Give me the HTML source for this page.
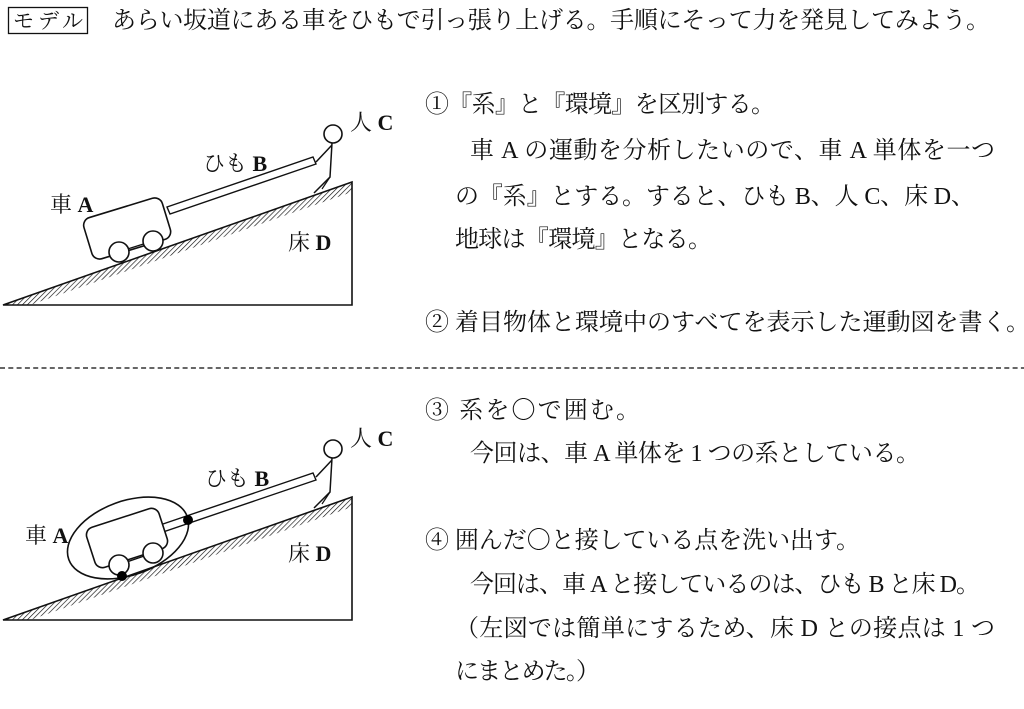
<!DOCTYPE html>
<html><head><meta charset="utf-8"><style>
html,body{margin:0;padding:0;background:#fff;}
svg{display:block;}
text{font-family:"Liberation Serif","Noto Serif CJK JP","Noto Serif CJK SC",serif;fill:#111;}
tspan.b{font-weight:bold;}
</style></head><body>
<svg width="1024" height="709" viewBox="0 0 1024 709" xmlns="http://www.w3.org/2000/svg">
<defs>
<pattern id="h" width="3.5" height="3.5" patternUnits="userSpaceOnUse" patternTransform="rotate(45)">
<line x1="0" y1="0" x2="0" y2="3.5" stroke="#111" stroke-width="1.3"/>
</pattern>
<g id="ground">
<polygon points="3,305 352,182 352,192 30,305" fill="url(#h)"/>
<polygon points="3,305 352,182 352,305" fill="none" stroke="#111" stroke-width="1.6"/>
</g>
<g id="person">
<circle cx="333" cy="134" r="9" fill="#fff" stroke="#111" stroke-width="1.6"/>
<polyline points="332,143 330,177 321,186 314,193" fill="none" stroke="#111" stroke-width="1.5"/>
<polyline points="332,145 316,162" fill="none" stroke="#111" stroke-width="1.5"/>
<polyline points="330,177 322,189" fill="none" stroke="#111" stroke-width="1.2"/>
</g>
</defs>

<rect x="8.5" y="7.5" width="79" height="26" fill="none" stroke="#111" stroke-width="1.3"/>
<text x="13" y="28" font-size="21" textLength="70">モデル</text>
<text x="112" y="28" font-size="24" textLength="878">あらい坂道にある車をひもで引っ張り上げる。手順にそって力を発見してみよう。</text>

<!-- diagram 1 -->
<use href="#ground"/>
<use href="#person"/>
<polygon points="167,207 313,157 316,164 170,214" fill="#fff" stroke="#111" stroke-width="1.4"/>
<rect x="86" y="207" width="82" height="43" rx="8" fill="#fff" stroke="#111" stroke-width="1.6" transform="rotate(-17 127 228)"/>
<line x1="118" y1="252" x2="153" y2="241" stroke="#111" stroke-width="1.4"/>
<circle cx="119" cy="252" r="10" fill="#fff" stroke="#111" stroke-width="1.6"/>
<circle cx="153" cy="241" r="10" fill="#fff" stroke="#111" stroke-width="1.6"/>
<text x="350" y="130" font-size="22">人 <tspan class="b">C</tspan></text>
<text x="203" y="171" font-size="22">ひも <tspan class="b">B</tspan></text>
<text x="50" y="212" font-size="22">車 <tspan class="b">A</tspan></text>
<text x="288" y="250" font-size="22">床 <tspan class="b">D</tspan></text>

<!-- right text top -->
<text x="425" y="112" font-size="24" textLength="350">①『系』と『環境』を区別する。</text>
<text x="470" y="158" font-size="24" textLength="525">車 A の運動を分析したいので、車 A 単体を一つ</text>
<text x="455" y="204" font-size="24" textLength="520">の『系』とする。すると、ひも B、人 C、床 D、</text>
<text x="455" y="247" font-size="24" textLength="257">地球は『環境』となる。</text>
<text x="425" y="330" font-size="24" textLength="605">② 着目物体と環境中のすべてを表示した運動図を書く。</text>

<line x1="0" y1="368" x2="1024" y2="368" stroke="#333" stroke-width="1.5" stroke-dasharray="5,3.3"/>

<!-- diagram 2 -->
<g transform="translate(0,315)"><use href="#ground"/><use href="#person"/></g>
<polygon points="160,525 313,473 316,480 163,532" fill="#fff" stroke="#111" stroke-width="1.4"/>
<ellipse cx="128" cy="538" rx="63" ry="37" fill="none" stroke="#111" stroke-width="1.6" transform="rotate(-20 128 538)"/>
<rect x="89" y="517" width="76" height="42" rx="8" fill="#fff" stroke="#111" stroke-width="1.6" transform="rotate(-18 127 538)"/>
<line x1="118" y1="565" x2="153" y2="553" stroke="#111" stroke-width="1.4"/>
<circle cx="119" cy="565" r="10" fill="#fff" stroke="#111" stroke-width="1.6"/>
<circle cx="153" cy="553" r="10" fill="#fff" stroke="#111" stroke-width="1.6"/>
<circle cx="188" cy="520" r="5" fill="#000"/>
<circle cx="122" cy="576" r="5" fill="#000"/>
<text x="350" y="446" font-size="22">人 <tspan class="b">C</tspan></text>
<text x="205" y="486" font-size="22">ひも <tspan class="b">B</tspan></text>
<text x="25" y="543" font-size="22">車 <tspan class="b">A</tspan></text>
<text x="288" y="561" font-size="22">床 <tspan class="b">D</tspan></text>

<!-- right text bottom -->
<text x="425" y="418" font-size="24" textLength="215">③ 系を〇で囲む。</text>
<text x="470" y="461" font-size="24" textLength="450">今回は、車 A 単体を 1 つの系としている。</text>
<text x="425" y="548" font-size="24" textLength="435">④ 囲んだ〇と接している点を洗い出す。</text>
<text x="470" y="592" font-size="24" textLength="510">今回は、車 A と接しているのは、ひも B と床 D。</text>
<text x="455" y="636" font-size="24" textLength="540">（左図では簡単にするため、床 D との接点は 1 つ</text>
<text x="455" y="679" font-size="24" textLength="145">にまとめた。）</text>
</svg>
</body></html>
